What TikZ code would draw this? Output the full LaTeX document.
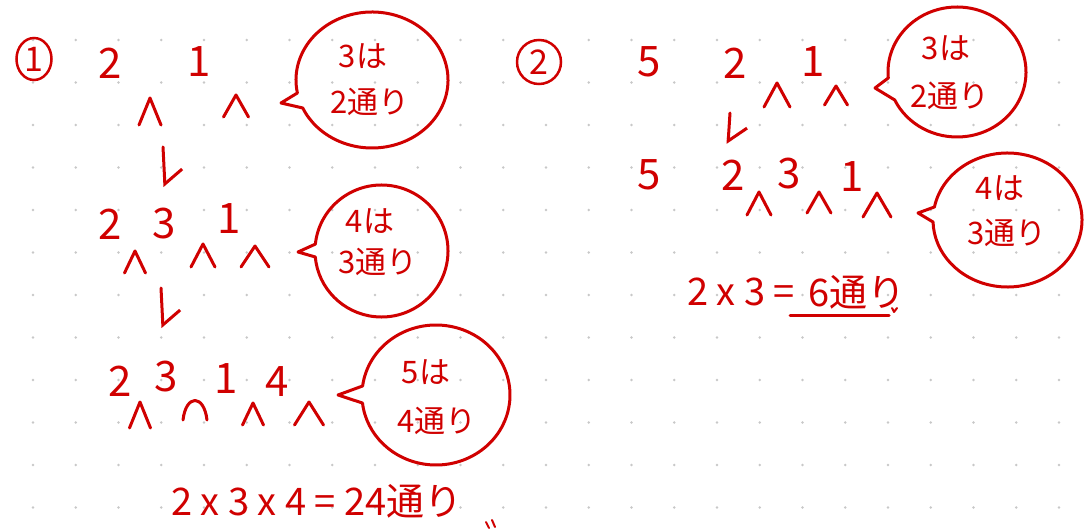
\documentclass[tikz,border=0pt]{standalone}
\usepackage{fontspec}
\setmainfont{Noto Sans CJK JP}
\usetikzlibrary{arrows.meta,shapes.geometric}
\definecolor{ink}{RGB}{208,0,0}
\definecolor{dotc}{RGB}{200,200,200}
\tikzset{
  inkline/.style={draw=ink, line width=3pt, line cap=round, line join=round},
  digit/.style={text=ink, font=\fontsize{42}{44}\selectfont, inner sep=0pt},
  btext/.style={text=ink, font=\fontsize{31}{33}\selectfont, inner sep=0pt},
  eqtext/.style={text=ink, font=\fontsize{38}{40}\selectfont, inner sep=0pt},
  arr/.style={inkline, -{Straight Barb[left, length=14pt, width=36pt]}},
  circnum/.style={ellipse, draw=ink, line width=2.5pt, text=ink, inner sep=0pt, font=\fontsize{34}{36}\selectfont}
}
\newcommand{\caretmark}[4]{\draw[inkline] ({#1-#3/2},{#2+#4}) -- (#1,#2) -- ({#1+#3/2},{#2+#4});}
\newcommand{\speech}[8]{\draw[inkline] ({#1+#3*cos(#5)},{#2+#4*sin(#5)}) arc[start angle=#5,end angle=#6,x radius=#3,y radius=#4] -- (#7,#8) -- cycle;}
\begin{document}
\begin{tikzpicture}[x=1pt,y=-1pt]
\useasboundingbox (0,0) rectangle (1084,529);
\fill[white] (0,0) rectangle (1084,529);
% dot grid
\foreach \i in {0,...,24}{\foreach \j in {0,...,11}{\fill[dotc] ({33+42.75*\i},{40+42.5*\j}) circle[radius=1.3];}}

% ---------- part 1 ----------
\node[circnum, minimum width=35pt, minimum height=42pt] (c1) at (34,59) {1};
% row 1
\node[digit] (p1r1a) at (110,63) {2};
\node[digit] (p1r1b) at (199,62) {1};
\caretmark{150}{98}{22}{27}
\caretmark{236}{95}{25}{22}
\speech{372}{80}{76}{68}{169}{515.7}{281}{103}
\node[btext] (b1a) at (363,56) {3は};
\node[btext] (b1b) at (370,102) {2通り};
\coordinate (a1s) at (163,147);
\coordinate (a1e) at (165,187);
\draw[arr] (a1s) -- (a1e);
% row 2
\node[digit] (p1r2a) at (110,224) {2};
\node[digit] (p1r2b) at (164,224) {3};
\node[digit] (p1r2c) at (229,219) {1};
\caretmark{135}{251}{21}{22}
\caretmark{203}{244}{24}{23}
\caretmark{255}{246}{28}{21}
\speech{381.5}{251}{66.5}{66}{186}{534.8}{298}{252}
\node[btext] (b2a) at (370,221) {4は};
\node[btext] (b2b) at (378,262) {3通り};
\coordinate (a2s) at (161,288);
\coordinate (a2e) at (163,328);
\draw[arr] (a2s) -- (a2e);
% row 3
\node[digit] (p1r3a) at (120,381) {2};
\node[digit] (p1r3b) at (166,377) {3};
\node[digit] (p1r3c) at (226,379) {1};
\node[digit] (p1r3d) at (277,382) {4};
\caretmark{140}{402}{21}{26}
\draw[inkline] (183,420) .. controls (186,394) and (204,394) .. (207,420);
\caretmark{253}{403}{21}{22}
\caretmark{309}{402}{29}{23}
\speech{436}{395}{74}{70}{187.4}{533.4}{338}{395}
\node[btext] (b3a) at (426,372) {5は};
\node[btext] (b3b) at (437,421) {4通り};
% result
\node[eqtext] (eq1) at (317,501) {2 x 3 x 4 = 24通り};
\draw[inkline, line width=2pt] (486,522) -- (489,528) (492,520) -- (495,527);

% ---------- part 2 ----------
\node[circnum, minimum width=44pt, minimum height=44pt] (c2) at (539,62) {2};
% row 1
\node[digit] (p2r1a) at (649,62) {5};
\node[digit] (p2r1b) at (735,63) {2};
\node[digit] (p2r1c) at (813,62) {1};
\caretmark{777}{83}{26}{24}
\caretmark{836}{86}{23}{19}
\speech{957}{72}{69}{65}{174.7}{514.5}{875}{88}
\node[btext] (b4a) at (946,48) {3は};
\node[btext] (b4b) at (950,96) {2通り};
\coordinate (a3s) at (730,113);
\coordinate (a3e) at (728,144);
\draw[arr] (a3s) -- (a3e);
% row 2
\node[digit] (p2r2a) at (649,175) {5};
\node[digit] (p2r2b) at (733,175) {2};
\node[digit] (p2r2c) at (789,174) {3};
\node[digit] (p2r2d) at (852,177) {1};
\caretmark{759}{192}{24}{23}
\caretmark{819}{192}{24}{21}
\caretmark{877}{193}{28}{24}
\speech{1007.5}{220}{74.5}{67}{191.2}{538.3}{918}{213}
\node[btext] (b5a) at (1000,188) {4は};
\node[btext] (b5b) at (1007,233) {3通り};
% result
\node[eqtext, anchor=east] (eq2a) at (795,292) {2 x 3 =};
\node[eqtext, anchor=west] (eq2b) at (808,292) {6通り};
\coordinate (u1) at (790,315);
\coordinate (u2) at (889,315);
\draw[inkline] (u1) -- (u2);
\draw[inkline, line width=2pt] (892,308) -- (894,312) -- (897,308);
\end{tikzpicture}
\end{document}
